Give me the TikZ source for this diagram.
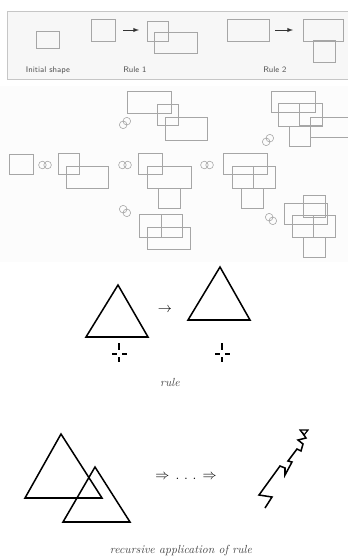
\documentclass[tikz,border=0pt]{standalone}
\usepackage{amssymb}
\tikzset{
  panel/.style={draw=gray!45, fill=gray!6, line width=0.6pt},
  gshape/.style={draw=gray!70, line width=0.5pt},
  bshape/.style={draw=black, line width=1.3pt, line join=miter},
  lbl/.style={font=\sffamily\scriptsize, text=gray!65!black},
  capt/.style={font=\itshape, text=gray!55!black},
}
\begin{document}
\begin{tikzpicture}[x=0.03cm, y=-0.03cm]
  \useasboundingbox (0,0) rectangle (348,557);
  \clip (0,0) rectangle (348,557);
  % rules panel
  \draw[panel] (7,11) rectangle (356,79);
  \fill[gray!2] (0,86) rectangle (348,262);
  \draw[gshape] (36,31) rectangle (59,48);
  \node[lbl] (init) at (48,70) {Initial shape};
  \draw[gshape] (91,19) rectangle (115,41);
  \coordinate (r1a) at (123,30); \coordinate (r1b) at (139,30);
  \draw[-latex, line width=0.7pt, black!80] (r1a) -- (r1b);
  \draw[gshape] (147,21) rectangle (168,41) (154,32) rectangle (197,53);
  \node[lbl] (rule1) at (135,70) {Rule 1};
  \draw[gshape] (227,19) rectangle (269,41);
  \coordinate (r2a) at (275,30); \coordinate (r2b) at (293,30);
  \draw[-latex, line width=0.7pt, black!80] (r2a) -- (r2b);
  \draw[gshape] (303,19) rectangle (343,41) (313,40) rectangle (335,62);
  \node[lbl] (rule2) at (275,70) {Rule 2};
  % derivation tree
  \draw[gshape] (9,154) rectangle (33,174);
  \draw[gshape] (58,153) rectangle (79,174) (66,166) rectangle (108,188);
  \draw[gshape] (138,153) rectangle (162,174) (147,166) rectangle (191,188) (158,188) rectangle (180,208);
  \draw[gshape] (223,153) rectangle (267,174) (232,166) rectangle (275,188) (253,166) -- (253,188) (241,188) rectangle (263,208);
  \draw[gshape] (127,91) rectangle (171,113) (157,104) rectangle (178,125) (165,117) rectangle (207,140);
  \draw[gshape] (271,91) rectangle (315,112) (278,103) rectangle (322,126) (299,103) rectangle (322,125)
    (310,117) rectangle (360,137) (289,126) rectangle (310,146);
  \draw[gshape] (139,214) rectangle (182,237) (161,214) -- (161,237) (147,227) rectangle (190,249);
  \draw[gshape] (303,195) rectangle (325,217) (284,203) rectangle (327,224) (292,215) rectangle (335,237)
    (313,215) -- (313,237) (303,237) rectangle (325,257);
  \foreach \cx/\cy/\ang in {45/165/0, 125/165/0, 207/165/0, 125/123/45, 268/140/45, 125/211/-45, 271/219/-45}
    \draw[gshape, shift={(\cx,\cy)}, rotate=\ang] (-2.6,0) circle (3.8) (2.6,0) circle (3.8);
  % rule
  \draw[bshape] (86,337) -- (148,337) -- (118,285) -- cycle;
  \node[font=\large] (to) at (165,310) {$\rightarrow$};
  \draw[bshape] (188,320) -- (250,320) -- (220,267) -- cycle;
  \foreach \mx in {119,222}
    \draw[black, line width=1.2pt] (\mx,343) -- (\mx,350) (\mx,357) -- (\mx,362)
      (\mx-7,354) -- (\mx-2,354) (\mx+3,354) -- (\mx+8,354);
  \node[capt] (rulecap) at (170,382) {rule};
  % recursive application
  \draw[bshape] (25,498) -- (102,498) -- (61,434) -- cycle;
  \draw[bshape] (63,522) -- (130,522) -- (95,467) -- cycle;
  \node[font=\large] (dots) at (186,477) {$\Rightarrow\,.\,\,.\,\,.\,\Rightarrow$};
  \draw[bshape] (265,508) -- (272,497) -- (259,495) -- (280,466) -- (285,468) -- (285,475) -- (292,462)
    -- (288,461) -- (297,449) -- (301,451) -- (303,444) -- (298,440) -- (306,438) -- (302,432);
  \draw[bshape, line width=1pt] (300,430) -- (308,430) -- (304,435) -- cycle;
  \node[capt] (reccap) at (181,551) {recursive application of rule};
\end{tikzpicture}
\end{document}
